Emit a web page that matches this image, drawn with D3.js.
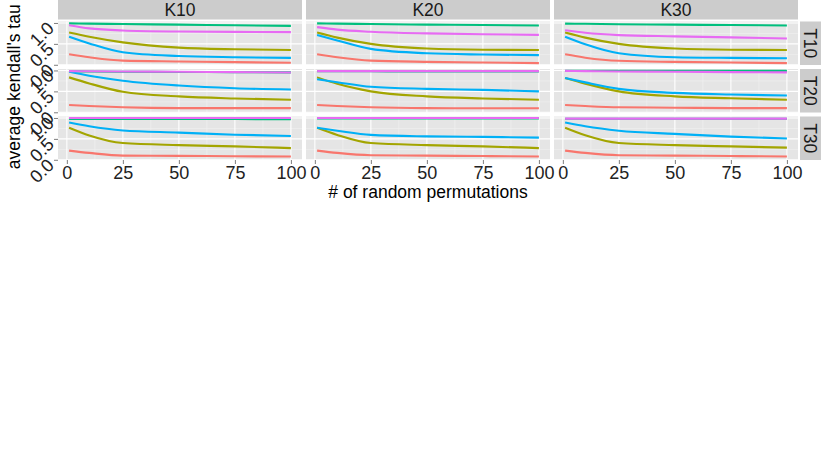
<!DOCTYPE html>
<html lang="en">
<head>
<meta charset="utf-8">
<title>average kendall's tau</title>
<script src="https://cdn.jsdelivr.net/npm/d3@7"></script>
<style>
  body { margin: 0; background: #fff; }
  svg text { font-family: "Liberation Sans", Arial, sans-serif; }
</style>
</head>
<body>
<script>
// facets
var kCols = ["K10", "K20", "K30"];
var tRows = ["T10", "T20", "T30"];
// x positions (# of random permutations) where values were read
var xs = [1, 10, 25, 50, 75, 100];
var xTicks = [0, 25, 50, 75, 100];
var yTicks = [0, 0.5, 1];
var colors = ["#F8766D", "#A3A500", "#00BF7D", "#00B0F6", "#E76BF3"];

// each panel: 5 series (red, olive, green, blue, purple)
var k10t10 = [[0.25, 0.18, 0.10, 0.08, 0.063, 0.047],
              [0.77, 0.67, 0.535, 0.41, 0.37, 0.355],
              [0.99, 0.985, 0.975, 0.96, 0.945, 0.93],
              [0.67, 0.51, 0.30, 0.21, 0.18, 0.165],
              [0.945, 0.87, 0.82, 0.795, 0.787, 0.78]];
var k10t20 = [[0.175, 0.15, 0.12, 0.10, 0.10, 0.10],
              [0.835, 0.69, 0.49, 0.38, 0.33, 0.30],
              [0.98, 0.975, 0.97, 0.965, 0.96, 0.955],
              [0.97, 0.875, 0.755, 0.64, 0.575, 0.545],
              [0.985, 0.98, 0.975, 0.97, 0.96, 0.95]];
var k10t30 = [[0.22, 0.165, 0.10, 0.094, 0.085, 0.078],
              [0.765, 0.58, 0.40, 0.35, 0.32, 0.28],
              [0.977, 0.977, 0.976, 0.975, 0.974, 0.972],
              [0.89, 0.80, 0.70, 0.65, 0.60, 0.57],
              [1.0, 1.0, 1.0, 1.0, 1.0, 1.0]];
var k20t10 = [[0.25, 0.18, 0.10, 0.07, 0.055, 0.04],
              [0.77, 0.65, 0.50, 0.39, 0.36, 0.355],
              [0.99, 0.985, 0.975, 0.96, 0.95, 0.94],
              [0.71, 0.58, 0.38, 0.275, 0.245, 0.23],
              [0.90, 0.84, 0.79, 0.75, 0.73, 0.715]];
var k20t20 = [[0.175, 0.15, 0.12, 0.10, 0.097, 0.095],
              [0.835, 0.68, 0.50, 0.38, 0.33, 0.30],
              [0.98, 0.98, 0.98, 0.975, 0.975, 0.975],
              [0.79, 0.72, 0.61, 0.56, 0.535, 0.50],
              [0.985, 0.985, 0.985, 0.985, 0.985, 0.985]];
var k20t30 = [[0.22, 0.165, 0.11, 0.10, 0.09, 0.078],
              [0.765, 0.595, 0.40, 0.35, 0.32, 0.28],
              [0.99, 0.99, 0.99, 0.99, 0.99, 0.99],
              [0.765, 0.695, 0.595, 0.56, 0.547, 0.53],
              [1.0, 1.0, 1.0, 1.0, 1.0, 1.0]];
var k30t10 = [[0.25, 0.17, 0.095, 0.07, 0.055, 0.04],
              [0.77, 0.65, 0.50, 0.39, 0.36, 0.355],
              [0.985, 0.98, 0.97, 0.96, 0.95, 0.94],
              [0.67, 0.49, 0.275, 0.18, 0.165, 0.157],
              [0.825, 0.765, 0.71, 0.68, 0.655, 0.63]];
var k30t20 = [[0.175, 0.15, 0.12, 0.11, 0.10, 0.10],
              [0.82, 0.685, 0.50, 0.38, 0.335, 0.30],
              [0.99, 0.99, 0.99, 0.99, 0.99, 0.99],
              [0.82, 0.715, 0.56, 0.465, 0.425, 0.40],
              [0.99, 0.985, 0.975, 0.97, 0.96, 0.955]];
var k30t30 = [[0.22, 0.165, 0.11, 0.10, 0.09, 0.078],
              [0.765, 0.585, 0.40, 0.35, 0.32, 0.29],
              [0.98, 0.98, 0.98, 0.98, 0.98, 0.98],
              [0.89, 0.80, 0.695, 0.62, 0.555, 0.51],
              [0.985, 0.985, 0.985, 0.985, 0.985, 0.985]];

var panels = [[k10t10, k20t10, k30t10],
              [k10t20, k20t20, k30t20],
              [k10t30, k20t30, k30t30]];

var W = 823, H = 458;
var panelLeft = 58, panelTop = 21.5, pw = 244, ph = 43.5, gap = 4;
var stripH = 20.5, stripW = 21;

var svg = d3.select("body").append("svg")
  .attr("width", W).attr("height", H);

var line = d3.line().curve(d3.curveMonotoneX);

tRows.forEach(function(tName, r) {
  kCols.forEach(function(kName, c) {
    var px = panelLeft + c * (pw + gap);
    var py = panelTop + r * (ph + gap);
    var x = d3.scaleLinear().domain([-3.95, 104.95]).range([px, px + pw]);
    var y = d3.scaleLinear().domain([-0.005, 1.035]).range([py + ph, py]);

    var g = svg.append("g");
    g.append("rect").attr("x", px).attr("y", py)
      .attr("width", pw).attr("height", ph).attr("fill", "#E5E5E5");

    // minor grid
    [12.5, 37.5, 62.5, 87.5].forEach(function(v) {
      g.append("line").attr("x1", x(v)).attr("x2", x(v))
        .attr("y1", py).attr("y2", py + ph)
        .attr("stroke", "#F2F2F2").attr("stroke-width", 0.6);
    });
    [0.25, 0.75].forEach(function(v) {
      g.append("line").attr("x1", px).attr("x2", px + pw)
        .attr("y1", y(v)).attr("y2", y(v))
        .attr("stroke", "#F2F2F2").attr("stroke-width", 0.6);
    });
    // major grid
    xTicks.forEach(function(v) {
      g.append("line").attr("x1", x(v)).attr("x2", x(v))
        .attr("y1", py).attr("y2", py + ph)
        .attr("stroke", "#fff").attr("stroke-width", 1.1);
    });
    yTicks.forEach(function(v) {
      g.append("line").attr("x1", px).attr("x2", px + pw)
        .attr("y1", y(v)).attr("y2", y(v))
        .attr("stroke", "#fff").attr("stroke-width", 1.1);
    });

    // series
    var data = panels[r][c];
    data.forEach(function(vals, i) {
      g.append("path")
        .attr("d", line(vals.map(function(v, j) { return [x(xs[j]), y(v)]; })))
        .attr("fill", "none")
        .attr("stroke", colors[i])
        .attr("stroke-width", 2.1);
    });

    // top strips
    if (r === 0) {
      svg.append("rect").attr("x", px).attr("y", 0)
        .attr("width", pw).attr("height", stripH - 1).attr("fill", "#CCCCCC");
      svg.append("text").attr("x", px + pw / 2).attr("y", 10)
        .attr("text-anchor", "middle").attr("dy", "0.36em")
        .attr("font-size", 17.5).attr("fill", "#1A1A1A").text(kName);
    }
    // right strips
    if (c === 2) {
      var sx = px + pw + 2;
      svg.append("rect").attr("x", sx).attr("y", py)
        .attr("width", stripW).attr("height", ph).attr("fill", "#CCCCCC");
      svg.append("text")
        .attr("transform", "translate(" + (sx + stripW / 2) + "," + (py + ph / 2) + ") rotate(90)")
        .attr("text-anchor", "middle").attr("dy", "0.36em")
        .attr("font-size", 17.5).attr("fill", "#1A1A1A").text(tName);
    }
    // x axis on the bottom row
    if (r === 2) {
      var ax = svg.append("g")
        .attr("transform", "translate(0," + (py + ph) + ")")
        .call(d3.axisBottom(x).tickValues(xTicks).tickSize(4).tickPadding(2));
      ax.select(".domain").remove();
      ax.selectAll("line").attr("stroke", "#7F7F7F");
      ax.selectAll("text").attr("font-size", 18).attr("fill", "#222")
        .attr("font-family", "Liberation Sans, Arial, sans-serif");
    }
    // y axis on the left column
    if (c === 0) {
      var ay = svg.append("g")
        .attr("transform", "translate(" + px + ",0)")
        .call(d3.axisLeft(y).tickValues(yTicks).tickSize(4)
          .tickFormat(d3.format(".1f")));
      ay.select(".domain").remove();
      ay.selectAll("line").attr("stroke", "#7F7F7F");
      ay.selectAll("text")
        .attr("x", null).attr("dy", null)
        .attr("text-anchor", "end")
        .attr("font-size", 18).attr("fill", "#222")
        .attr("font-family", "Liberation Sans, Arial, sans-serif")
        .attr("transform", "translate(-3,6) rotate(-45)");
    }
  });
});

// axis titles
svg.append("text")
  .attr("x", panelLeft + (3 * pw + 2 * gap) / 2).attr("y", 198)
  .attr("text-anchor", "middle").attr("font-size", 17.5).attr("fill", "#000")
  .text("# of random permutations");
svg.append("text")
  .attr("transform", "translate(20," + (panelTop + (3 * ph + 2 * gap) / 2 - 4) + ") rotate(-90)")
  .attr("text-anchor", "middle").attr("font-size", 17.5).attr("fill", "#000")
  .text("average kendall's tau");
</script>
</body>
</html>
